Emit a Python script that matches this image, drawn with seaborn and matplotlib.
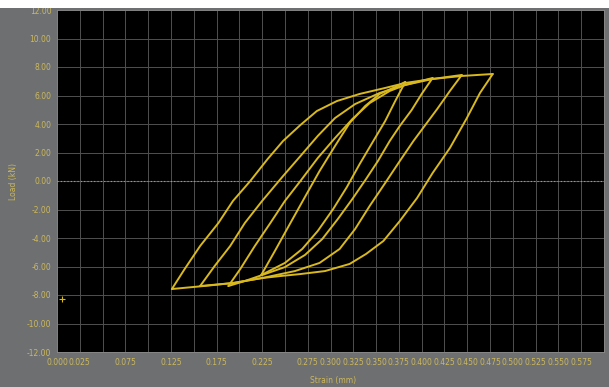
import numpy as np
import pandas as pd
import matplotlib
matplotlib.use('Agg')
import matplotlib.pyplot as plt
import seaborn as sns
from matplotlib.patches import Rectangle

# ---- data (strain, load kN) ----
loop4_load_x = [.126, .140, .157, .177, .193, .212, .231, .248, .267, .285, .307, .332, .360, .382, .412, .444, .478]
loop4_load_y = [-7.58, -6.18, -4.56, -2.95, -1.40, 0.00, 1.54, 2.81, 3.93, 4.91, 5.61, 6.11, 6.53, 6.88, 7.16, 7.37, 7.51]
loop4_unload_x = [.478, .464, .449, .431, .412, .395, .376, .358, .339, .321, .294, .267, .245, .225, .193, .161, .126]
loop4_unload_y = [7.51, 6.18, 4.35, 2.32, 0.56, -1.19, -2.81, -4.21, -5.12, -5.82, -6.32, -6.53, -6.67, -6.81, -7.16, -7.37, -7.58]

loop3_load_x = [.157, .173, .190, .206, .225, .248, .267, .286, .305, .327, .354, .382, .412, .444]
loop3_load_y = [-7.37, -5.96, -4.56, -2.95, -1.40, 0.35, 1.75, 3.16, 4.42, 5.40, 6.18, 6.74, 7.16, 7.44]
loop3_unload_x = [.444, .431, .417, .404, .391, .376, .360, .343, .327, .310, .288, .261, .225, .193, .157]
loop3_unload_y = [7.44, 6.32, 5.05, 3.93, 2.81, 1.40, -0.14, -1.75, -3.37, -4.77, -5.75, -6.32, -6.81, -7.16, -7.37]

loop2_load_x = [.188, .201, .217, .234, .250, .267, .286, .305, .324, .343, .365, .382, .412]
loop2_load_y = [-7.37, -6.18, -4.56, -2.95, -1.40, 0.00, 1.61, 3.02, 4.35, 5.47, 6.32, 6.74, 7.23]
loop2_unload_x = [.412, .400, .389, .376, .365, .352, .339, .324, .308, .291, .272, .250, .225, .206, .188]
loop2_unload_y = [7.23, 6.11, 4.98, 3.86, 2.81, 1.40, 0.14, -1.26, -2.67, -4.07, -5.19, -6.04, -6.60, -7.02, -7.37]

loop1_load_x = [.224, .239, .256, .272, .288, .305, .321, .338, .354, .371, .382]
loop1_load_y = [-6.60, -4.91, -2.95, -1.12, 0.70, 2.46, 4.07, 5.26, 6.11, 6.60, 6.95]
loop1_unload_x = [.382, .371, .360, .347, .332, .318, .303, .286, .269, .250, .224]
loop1_unload_y = [6.95, 5.61, 4.21, 2.81, 1.19, -0.42, -1.96, -3.51, -4.77, -5.75, -6.60]

y_ticks = [-12, -10, -8, -6, -4, -2, 0, 2, 4, 6, 8, 10, 12]
x_grid = [i * 0.025 for i in range(25)]
x_labelled = [0.000, 0.025, 0.075, 0.125, 0.175, 0.225, 0.275,
              0.300, 0.325, 0.350, 0.375, 0.400, 0.425, 0.450, 0.475,
              0.500, 0.525, 0.550, 0.575]

branches = {
    'loop4_load': (loop4_load_x, loop4_load_y),
    'loop4_unload': (loop4_unload_x, loop4_unload_y),
    'loop3_load': (loop3_load_x, loop3_load_y),
    'loop3_unload': (loop3_unload_x, loop3_unload_y),
    'loop2_load': (loop2_load_x, loop2_load_y),
    'loop2_unload': (loop2_unload_x, loop2_unload_y),
    'loop1_load': (loop1_load_x, loop1_load_y),
    'loop1_unload': (loop1_unload_x, loop1_unload_y),
}

sns.set_theme(style='dark')
plt.rcParams['font.family'] = ['DejaVu Sans']

BG = '#6d6f71'
TXT = '#cdb85a'
LINE = '#d9b91e'

fig = plt.figure(figsize=(6.09, 3.87), dpi=100, facecolor=BG)
fig.add_artist(Rectangle((0, 1 - 8 / 387), 1, 8 / 387, transform=fig.transFigure,
                         facecolor='white', edgecolor='none'))
ax = fig.add_axes([57 / 609, 1 - 352 / 387, 547 / 609, 342 / 387])
ax.set_facecolor('black')

frames = []
for name, (xs, ys) in branches.items():
    frames.append(pd.DataFrame({'strain': xs, 'load': ys, 'branch': name}))
df = pd.concat(frames, ignore_index=True)

sns.lineplot(data=df, x='strain', y='load', units='branch', estimator=None,
             sort=False, color=LINE, lw=1.4, ax=ax, zorder=5)

ax.set_xlim(0, 0.6)
ax.set_ylim(-12, 12)
ax.set_xticks(x_grid)
ax.set_xticklabels([f'{v:.3f}' if any(abs(v - l) < 1e-9 for l in x_labelled) else '' for v in x_grid])
ax.set_yticks(y_ticks)
ax.set_yticklabels([f'{v:.2f}' for v in y_ticks])
ax.grid(True, color='#505050', lw=0.7)
ax.set_axisbelow(True)
ax.axhline(0, color='#a0a0a0', lw=0.8, ls=(0, (1, 2)), zorder=3)
ax.tick_params(axis='both', length=0, labelsize=5.5, labelcolor=TXT, pad=4)
for s in ax.spines.values():
    s.set_color('#8a8a8a')
    s.set_linewidth(0.6)

ax.set_xlabel('Strain (mm)', fontsize=5.5, color=TXT, labelpad=4)
ax.xaxis.set_label_coords((333 - 57) / 547, -0.07)
ax.set_ylabel('Load (kN)', fontsize=5.5, color=TXT, labelpad=4)
ax.yaxis.set_label_coords(-(57 - 18) / 547, 0.5)

# cursor marker at left edge
ax.plot([0.006], [-8.3], marker='+', color=LINE, ms=5, mew=0.8, clip_on=False, zorder=6)

fig.savefig('out.png', dpi=100, facecolor=fig.get_facecolor())
